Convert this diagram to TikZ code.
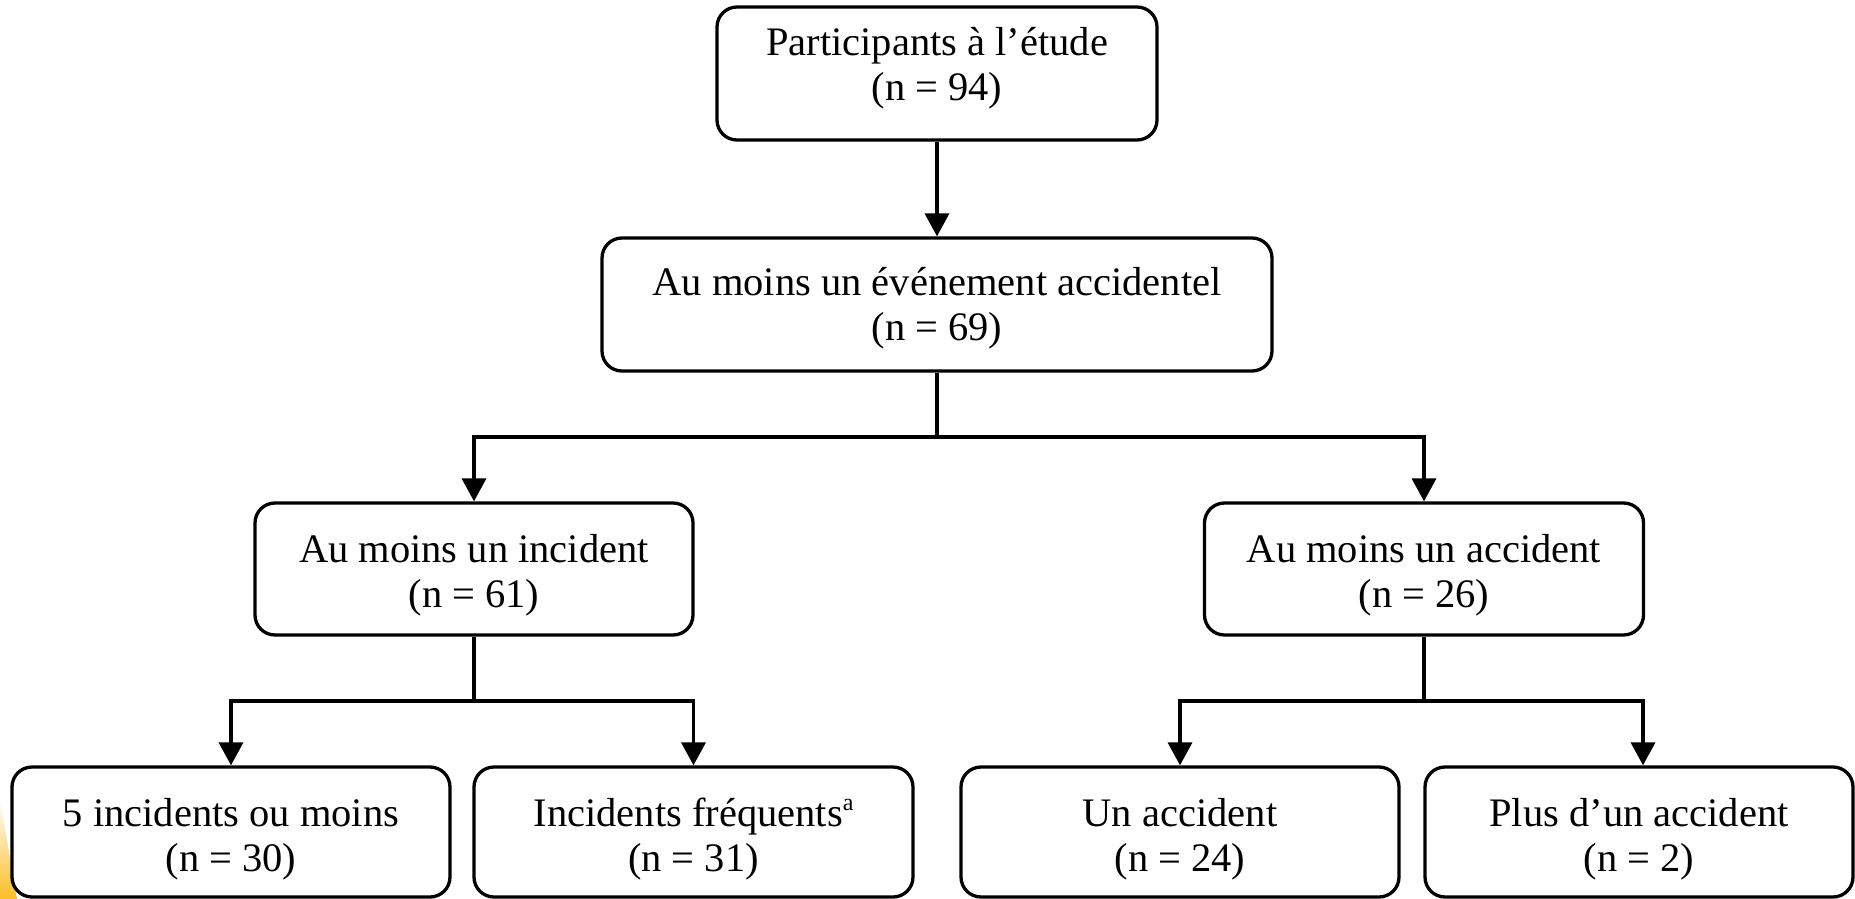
\documentclass[tikz,border=0pt]{standalone}
\usepackage{fontspec}
\setmainfont{Liberation Serif}
\usetikzlibrary{arrows.meta}
\definecolor{yellowc}{RGB}{251,190,40}
\newcommand{\supa}{\raisebox{16pt}{\fontsize{24}{24}\selectfont a}}
\newcommand{\hstrut}[1]{\rule{0pt}{#1pt}}
\newcommand{\dstrut}[1]{\rule[-#1pt]{0pt}{0pt}}
\tikzset{
  box/.style={draw=black, fill=white, line width=3.3pt, rounded corners=20pt,
    inner sep=0pt, align=center, font=\fontsize{40.5}{45}\selectfont,
    minimum height=132pt},
  conn/.style={draw=black, line width=3.6pt},
  arr/.style={conn, -{Triangle[width=24pt,length=23pt]}}
}
\begin{document}
\begin{tikzpicture}[x=1pt,y=-1pt]
\useasboundingbox (0,0) rectangle (1855,899);
\shade[top color=white, bottom color=yellowc] (0,798) -- (17,899) -- (0,899) -- cycle;

\node[box, minimum width=440pt, minimum height=133pt] (top) at (937,73.5) {\hstrut{30}Participants à l’étude\\(n = 94)\dstrut{22}};
\node[box, minimum width=670pt, minimum height=133pt] (second) at (937,304.5) {\hstrut{36}Au moins un événement accidentel\\(n = 69)\dstrut{10}};
\node[box, minimum width=438pt] (l3l) at (474,569) {\hstrut{40}Au moins un incident\\(n = 61)\dstrut{9}};
\node[box, minimum width=439pt] (l3r) at (1424,569) {\hstrut{40}Au moins un accident\\(n = 26)\dstrut{9}};
\node[box, minimum width=438pt, minimum height=130pt] (b1) at (231,832) {\hstrut{42}5 incidents ou moins\\(n = 30)\dstrut{9}};
\node[box, minimum width=439pt, minimum height=130pt] (b2) at (693.5,832) {\hstrut{42}Incidents fréquents\supa\\(n = 31)\dstrut{9}};
\node[box, minimum width=438pt, minimum height=130pt] (b3) at (1180,832) {\hstrut{42}Un accident\\(n = 24)\dstrut{9}};
\node[box, minimum width=428pt, minimum height=130pt] (b4) at (1639,832) {\hstrut{42}Plus d’un accident\\(n = 2)\dstrut{9}};

\coordinate (j1) at (937,437);
\coordinate (j2) at (474,701);
\coordinate (j3) at (1424,701);

\draw[arr] (top) -- (second);
\draw[conn] (second.south) -- (j1);
\draw[arr] (j1) -| (l3l.north);
\draw[arr] (j1) -| (l3r.north);
\draw[conn] (l3l.south) -- (j2);
\draw[arr] (j2) -| (b1.north);
\draw[arr] (j2) -| (b2.north);
\draw[conn] (l3r.south) -- (j3);
\draw[arr] (j3) -| (b3.north);
\draw[arr] (j3) -| ([xshift=4pt]b4.north);
\end{tikzpicture}
\end{document}
